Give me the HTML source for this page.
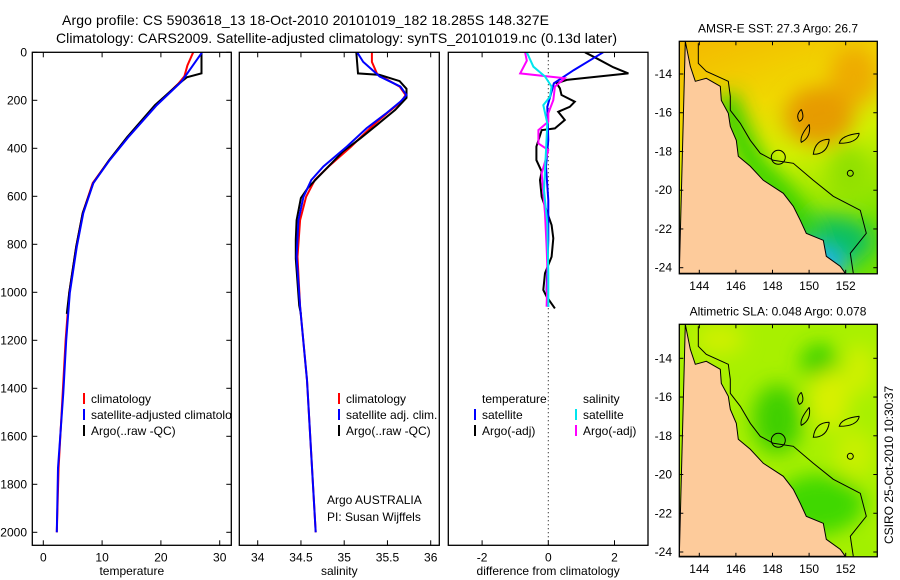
<!DOCTYPE html>
<html><head><meta charset="utf-8"><style>
html,body{margin:0;padding:0;background:#fff}
svg{display:block;font-family:"Liberation Sans",sans-serif}
</style></head><body>
<svg id="fig" width="900" height="580" viewBox="0 0 900 580" xmlns="http://www.w3.org/2000/svg">
<rect width="900" height="580" fill="#fff"/>
<text x="62" y="25" font-size="14" textLength="487">Argo profile: CS 5903618_13 18-Oct-2010 20101019_182 18.285S 148.327E</text>
<text x="56" y="43" font-size="14" textLength="561">Climatology: CARS2009. Satellite-adjusted climatology: synTS_20101019.nc (0.13d later)</text>
<g id="plots"></g>
<g id="maps"></g>
<text transform="translate(893,465) rotate(-90)" font-size="12" text-anchor="middle">CSIRO 25-Oct-2010 10:30:37</text>
</svg>
<script>
// ---------- data ----------
const depthTicks=[0,200,400,600,800,1000,1200,1400,1600,1800,2000];
const tempTicks=[0,10,20,30];
const salTicks=[34,34.5,35,35.5,36];
const salTickLabels=["34","34.5","35","35.5","36"];
const diffTicks=[-2,0,2];
// temperature
const tClimDepth=[0,55,100,130,220,352,449,545,670,810,1003,1200,1420,1732,2000];
const tClimVal=[25.5,24.5,24.0,23.0,19.2,14.4,11.2,8.4,6.7,5.6,4.4,3.8,3.3,2.6,2.3];
const tSatDepth=[0,122,220,352,449,545,670,810,1003,1200,1420,1732,2000];
const tSatVal=[27.0,23.5,19.3,14.5,11.3,8.5,6.8,5.7,4.5,3.9,3.4,2.5,2.3];
const tArgoDepth=[0,88,104,130,220,352,449,545,670,810,1003,1090];
const tArgoVal=[26.9,26.9,24.4,23.1,19.0,14.3,11.2,8.5,6.7,5.6,4.4,4.0];
// salinity
const sClimDepth=[0,40,90,143,178,206,253,316,393,476,532,602,699,852,1060,1366,2000];
const sClimVal=[35.32,35.32,35.38,35.64,35.71,35.66,35.50,35.30,35.08,34.82,34.66,34.56,34.49,34.46,34.49,34.57,34.67];
const sSatDepth=[0,40,101,143,178,206,253,316,393,476,532,602,699,852,1060,1366,2000];
const sSatVal=[35.15,35.22,35.41,35.65,35.72,35.65,35.49,35.26,35.03,34.76,34.62,34.53,34.47,34.45,34.49,34.57,34.67];
const sArgoDepth=[0,88,94,120,152,190,240,302,358,412,523,565,607,700,780,860,1055,1090];
const sArgoVal=[35.14,35.16,35.41,35.64,35.72,35.72,35.59,35.38,35.19,34.99,34.69,34.58,34.50,34.45,34.44,34.44,34.48,34.50];
// differences
const dTempArgoDepth=[0,25,62,88,115,129,150,178,206,227,248,282,317,324,393,449,497,532,602,720,775,852,921,990,1018,1067];
const dTempArgoVal=[1.11,1.46,1.96,2.42,0.56,0.25,0.35,0.40,0.80,0.65,0.30,0.50,0.20,-0.20,-0.36,-0.36,-0.20,-0.25,-0.20,0.10,0.15,0.10,-0.10,-0.15,-0.05,0.20];
const dTempSatDepth=[0,25,74,129,227,365,476,616,782,990,1060];
const dTempSatVal=[1.66,1.36,0.77,0.17,-0.03,0.0,-0.07,0.0,0.0,-0.05,0.0];
const dSalArgoDepth=[0,35,88,108,143,199,254,289,324,380,407,505,588,671,810,921,1060];
const dSalArgoVal=[-0.70,-0.65,-0.85,0.50,0.20,0.15,0.0,0.0,-0.30,-0.30,0.0,-0.20,-0.15,-0.10,-0.05,-0.02,-0.05];
const dSalSatDepth=[0,60,101,143,185,220,296,435,574,713,921,1060];
const dSalSatVal=[-0.65,-0.45,-0.10,0.10,0.05,-0.15,-0.03,-0.08,-0.13,-0.03,0.0,0.0];
// map ticks
const lonTicks=[144,146,148,150,152];
const latTicks=[-14,-16,-18,-20,-22,-24];

// ---------- helpers ----------
const NS="http://www.w3.org/2000/svg";
function mk(tag,attrs,parent){const e=document.createElementNS(NS,tag);for(const k in attrs)e.setAttribute(k,attrs[k]);parent.appendChild(e);return e;}
const plots=document.getElementById('plots');
const yD=d=>52.3+0.24*d;
const panels=[
 {name:'temperature-panel',x0:32.3,x1:231.3,xs:v=>43.3+5.88*v,ticks:tempTicks,labels:tempTicks.map(String),title:'temperature'},
 {name:'salinity-panel',x0:239.3,x1:439.3,xs:v=>257.7+86.5*(v-34),ticks:salTicks,labels:salTickLabels,title:'salinity'},
 {name:'difference-panel',x0:448.3,x1:648,xs:v=>548.3+33.1*v,ticks:diffTicks,labels:["-2","0","2"],title:'difference from climatology'}
];
const yTop=52.3,yBot=545.3;
panels.forEach((p,i)=>{
 const g=mk('g',{},plots);
 
 
 const cid='clip'+i;
 const cp=mk('clipPath',{id:cid},g);mk('rect',{x:p.x0,y:yTop,width:p.x1-p.x0,height:yBot-yTop},cp);
 p.g=g;p.clip=cid;
 p.ticks.forEach((t,j)=>{const x=p.xs(t);
  mk('line',{x1:x,x2:x,y1:yTop,y2:yTop+5,stroke:'#000'},g);
  mk('line',{x1:x,x2:x,y1:yBot,y2:yBot-5,stroke:'#000'},g);
  const tx=mk('text',{x:x,y:yBot+16,'font-size':12,'text-anchor':'middle'},g);tx.textContent=p.labels[j];
  
  
 });
 const tt=mk('text',{x:(p.x0+p.x1)/2,y:575,'font-size':12,'text-anchor':'middle'},g);tt.textContent=p.title;
 
 
 if(i===0){depthTicks.forEach(d=>{const y=yD(d);
  mk('line',{x1:p.x0,x2:p.x0+5,y1:y,y2:y,stroke:'#000'},g);
  mk('line',{x1:p.x1,x2:p.x1-5,y1:y,y2:y,stroke:'#000'},g);
  const tx=mk('text',{x:27,y:y+4,'font-size':12,'text-anchor':'end'},g);tx.textContent=String(d);
  
  
 });}
 if(i===2){mk('line',{x1:p.xs(0),x2:p.xs(0),y1:yTop,y2:yBot,stroke:'#000','stroke-dasharray':'1,3'},g);}
});
function series(p,dep,val,color,name){
 const pts=dep.map((d,k)=>p.xs(val[k]).toFixed(1)+','+yD(d).toFixed(1)).join(' ');
 const l=mk('polyline',{points:pts,fill:'none',stroke:color,'stroke-width':2,'clip-path':'url(#'+p.clip+')'},p.g);
 
 
}
series(panels[0],tClimDepth,tClimVal,'#ff0000','temp-climatology-line');
series(panels[0],tArgoDepth,tArgoVal,'#000','temp-argo-line');
series(panels[0],tSatDepth,tSatVal,'#0000ff','temp-satellite-line');
series(panels[1],sClimDepth,sClimVal,'#ff0000','sal-climatology-line');
series(panels[1],sArgoDepth,sArgoVal,'#000','sal-argo-line');
series(panels[1],sSatDepth,sSatVal,'#0000ff','sal-satellite-line');
series(panels[2],dTempArgoDepth,dTempArgoVal,'#000','diff-temp-argo-line');
series(panels[2],dTempSatDepth,dTempSatVal,'#0000ff','diff-temp-satellite-line');
series(panels[2],dSalArgoDepth,dSalArgoVal,'#ff00ff','diff-sal-argo-line');
series(panels[2],dSalSatDepth,dSalSatVal,'#00e5ee','diff-sal-satellite-line');
panels.forEach(p=>{const r=mk('rect',{x:p.x0,y:yTop,width:p.x1-p.x0,height:yBot-yTop,fill:'none',stroke:'#000','stroke-width':1.3},p.g);
 
 });
function legend(p,x,y,color,label,clipit){
 const g=mk('g',{},p.g);
 
 
 if(clipit)g.setAttribute('clip-path','url(#'+p.clip+')');
 mk('rect',{x:x,y:y-10,width:2,height:11,fill:color},g);
 const t=mk('text',{x:x+8,y:y,'font-size':12},g);t.textContent=label;
}
legend(panels[0],83,403,'#ff0000','climatology',true);
legend(panels[0],83,419,'#0000ff','satellite-adjusted climatology',true);
legend(panels[0],83,435,'#000','Argo(..raw -QC)',true);
legend(panels[1],338,403,'#ff0000','climatology');
legend(panels[1],338,419,'#0000ff','satellite adj. clim.');
legend(panels[1],338,435,'#000','Argo(..raw -QC)');
{const t=mk('text',{x:482,y:403,'font-size':12},panels[2].g);t.textContent='temperature';
 
 const s=mk('text',{x:583,y:403,'font-size':12},panels[2].g);s.textContent='salinity';
 }
legend(panels[2],474,419,'#0000ff','satellite');
legend(panels[2],474,435,'#000','Argo(-adj)');
legend(panels[2],575,419,'#00e5ee','satellite');
legend(panels[2],575,435,'#ff00ff','Argo(-adj)');
{const a=mk('text',{x:327,y:504,'font-size':12},panels[1].g);a.textContent='Argo AUSTRALIA';
 
 const b=mk('text',{x:327,y:521,'font-size':12},panels[1].g);b.textContent='PI: Susan Wijffels';
 }

// ---------- maps ----------
const maps=document.getElementById('maps');
const coast=[[6,0],[11,25],[16,40],[27,37],[41,45],[42,59],[49,72],[51,85],[57,99],[59,115],[71,125],[84,139],[104,152],[114,165],[121,179],[127,192],[144,199],[147,215],[161,225],[166,232],[0,232]];
const shelf=[[19,2],[19,22],[27,30],[49,40],[51,55],[51,69],[61,82],[71,99],[81,112],[94,119],[114,122],[134,139],[154,155],[181,169],[187,192],[171,212],[174,232]];
function drawMap(idx,y0,lat14y,title,kind){
 const x0=679.3,w=198,h=232.5;
 const g=mk('g',{},maps);
 
 
 const cid='mclip'+idx;
 const cp=mk('clipPath',{id:cid},g);mk('rect',{x:x0,y:y0,width:w,height:h},cp);
 const inner=mk('g',{'clip-path':'url(#'+cid+')'},g);
 const tr=mk('g',{transform:'translate('+x0+','+y0+')'},inner);
 const defs=mk('defs',{},tr);
 const blur=mk('filter',{id:'bl'+idx,x:'-50%',y:'-50%',width:'200%',height:'200%'},defs);
 mk('feGaussianBlur',{stdDeviation:10},blur);
 if(kind==='sst'){
  const lg=mk('linearGradient',{id:'sg',x1:0,y1:0,x2:0.3,y2:1},defs);
  mk('stop',{offset:0,'stop-color':'#f4b800'},lg);mk('stop',{offset:0.35,'stop-color':'#f0d800'},lg);
  mk('stop',{offset:0.6,'stop-color':'#d0f000'},lg);mk('stop',{offset:1,'stop-color':'#70e000'},lg);
  mk('rect',{x:0,y:0,width:w,height:h,fill:'url(#sg)'},tr);
  const b=mk('g',{filter:'url(#bl'+idx+')'},tr);
  mk('ellipse',{cx:140,cy:75,rx:35,ry:30,fill:'#e88a00','fill-opacity':0.8},b);
  mk('ellipse',{cx:175,cy:35,rx:25,ry:30,fill:'#eea000','fill-opacity':0.8},b);
  mk('ellipse',{cx:150,cy:200,rx:45,ry:25,fill:'#10c060'},b);
  mk('ellipse',{cx:140,cy:225,rx:25,ry:18,fill:'#20b0f0'},b);
  mk('polyline',{points:'45,55 60,95 75,125 100,150 120,175 135,200',fill:'none',stroke:'#30d000','stroke-width':24},b);
  mk('ellipse',{cx:170,cy:130,rx:20,ry:25,fill:'#90e000'},b);
 } else {
  mk('rect',{x:0,y:0,width:w,height:h,fill:'#a8f000'},tr);
  const b=mk('g',{filter:'url(#bl'+idx+')'},tr);
  mk('ellipse',{cx:140,cy:38,rx:18,ry:18,fill:'#30d000'},b);
  mk('ellipse',{cx:98,cy:95,rx:25,ry:35,fill:'#40d000'},b);
  mk('ellipse',{cx:150,cy:75,rx:20,ry:30,fill:'#d8f000'},b);
  mk('ellipse',{cx:180,cy:45,rx:15,ry:25,fill:'#d0f000'},b);
  mk('ellipse',{cx:40,cy:15,rx:25,ry:15,fill:'#d0f000'},b);
  mk('ellipse',{cx:175,cy:130,rx:20,ry:25,fill:'#c8f000'},b);
  mk('ellipse',{cx:140,cy:180,rx:45,ry:30,fill:'#40d800'},b);
  mk('ellipse',{cx:185,cy:225,rx:18,ry:14,fill:'#a0f000'},b);
 }
 const land=mk('polygon',{points:coast.map(p=>p.join(',')).join(' '),fill:'#fdcb9b',stroke:'#000','stroke-width':1},tr);
 
 
 mk('polyline',{points:shelf.map(p=>p.join(',')).join(' '),fill:'none',stroke:'#000','stroke-width':1},tr);
 mk('path',{d:'M122,68 q4,10 -2,12 q-4,-6 2,-12 M130,83 q-10,12 -8,18 q10,-5 8,-18 M150,98 q-14,0 -16,15 q14,0 16,-15 M180,92 q-18,2 -20,10 q18,0 20,-10',fill:'none',stroke:'#000','stroke-width':1},tr);
 mk('circle',{cx:99,cy:116,r:7,fill:'none',stroke:'#000','stroke-width':1},tr);
 mk('circle',{cx:171,cy:132,r:3,fill:'none',stroke:'#000','stroke-width':1},tr);
 const fr=mk('rect',{x:x0,y:y0,width:w,height:h,fill:'none',stroke:'#000','stroke-width':1.3},g);
 
 
 lonTicks.forEach(l=>{const x=699.3+18.3*(l-144);
  mk('line',{x1:x,x2:x,y1:y0,y2:y0+4,stroke:'#000'},g);mk('line',{x1:x,x2:x,y1:y0+h,y2:y0+h-4,stroke:'#000'},g);
  const t=mk('text',{x:x,y:y0+h+16,'font-size':12,'text-anchor':'middle'},g);t.textContent=String(l);
  
  });
 latTicks.forEach(l=>{const y=lat14y+19.37*(-14-l);
  mk('line',{x1:x0,x2:x0+4,y1:y,y2:y,stroke:'#000'},g);mk('line',{x1:x0+w,x2:x0+w-4,y1:y,y2:y,stroke:'#000'},g);
  const t=mk('text',{x:672,y:y+4,'font-size':12,'text-anchor':'end'},g);t.textContent=String(l);
  
  });
 const tt=mk('text',{x:778,y:y0-9,'font-size':12,'text-anchor':'middle'},g);tt.textContent=title;
 
 
}
drawMap(0,41.3,74,'AMSR-E SST: 27.3 Argo: 26.7','sst');
drawMap(1,324.3,358.3,'Altimetric SLA: 0.048 Argo: 0.078','sla');
</script>
</body></html>
